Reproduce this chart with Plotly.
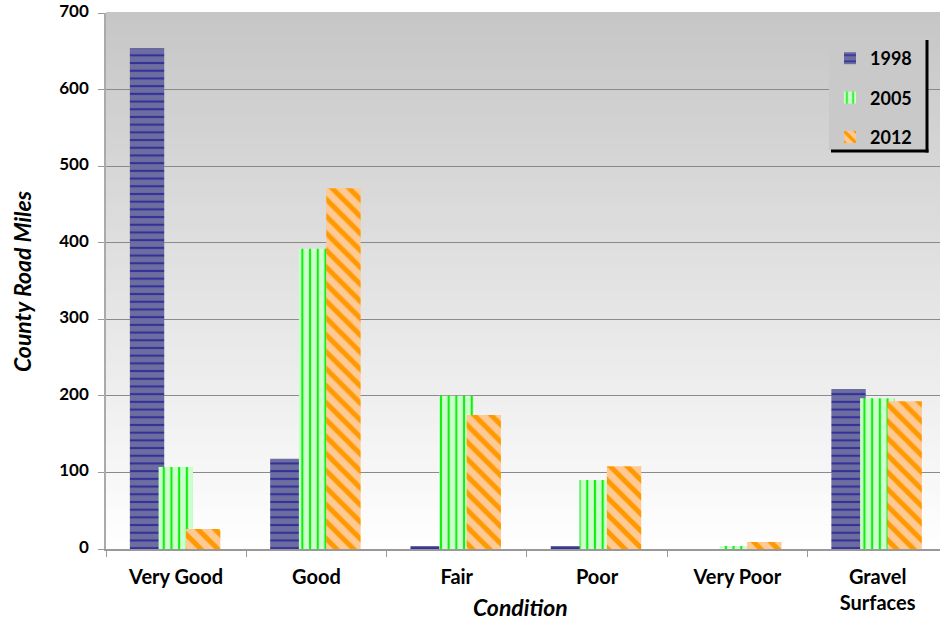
import plotly.graph_objects as go

categories = ["Very Good", "Good", "Fair", "Poor", "Very Poor", "Gravel<br>Surfaces"]
years = ["1998", "2005", "2012"]
miles_1998 = [654, 118, 4, 4, 0, 209]
miles_2005 = [107, 392, 200, 90, 4, 197]
miles_2012 = [26, 471, 175, 108, 9, 193]
y_ticks = [0, 100, 200, 300, 400, 500, 600, 700]

W, H = 940, 625
ML, MR, MT, MB = 106, 0, 13, 76

FONT = "Lato, 'Open Sans', sans-serif"

styles = [
    dict(shape="-", bg="#6d6d9f", fg="#32329a", size=7.7, sol=0.27),
    dict(shape="|", bg="#ccffcc", fg="#11ee11", size=7.7, sol=0.28),
    dict(shape="\\", bg="#ffc994", fg="#ff9900", size=12, sol=0.42),
]
offsets = [-0.33, -0.125, 0.07]
bar_w = 0.245

fig = go.Figure()
for i, (yr, vals) in enumerate(zip(years, [miles_1998, miles_2005, miles_2012])):
    s = styles[i]
    fig.add_trace(go.Bar(
        x=categories, y=vals, name=yr, legendgroup=yr,
        offset=offsets[i], width=bar_w,
        marker=dict(
            color=s["bg"],
            line=dict(width=0),
            pattern=dict(shape=s["shape"], bgcolor=s["bg"], fgcolor=s["fg"],
                         size=s["size"], solidity=s["sol"], fillmode="replace"),
        ),
    ))

# gradient background bands (paper coordinates)
shapes = []
n = 90
for k in range(n):
    y0 = k / n
    y1 = (k + 1) / n
    t = 1 - (y0 + y1) / 2  # 0 at top, 1 at bottom
    v = int(round(198 + (255 - 198) * t))
    c = f"rgb({v},{v},{v})"
    shapes.append(dict(type="rect", xref="paper", yref="paper", x0=0, x1=1,
                       y0=y0, y1=y1 + 0.002, fillcolor=c, line=dict(width=0),
                       layer="below"))

pw = W - ML - MR
ph = H - MT - MB
def px(xp):  # screen x -> paper
    return (xp - ML) / pw
def py(yp):  # screen y -> paper
    return (H - MB - yp) / ph

# legend box + shadow lines
shapes.append(dict(type="rect", xref="paper", yref="paper",
                   x0=px(829), x1=px(926), y0=py(150), y1=py(40),
                   fillcolor="#c9c9c9", line=dict(width=0), layer="above"))
shapes.append(dict(type="line", xref="paper", yref="paper",
                   x0=px(927), x1=px(927), y0=py(40), y1=py(152.5),
                   line=dict(color="black", width=3), layer="above"))
shapes.append(dict(type="line", xref="paper", yref="paper",
                   x0=px(831), x1=px(928.5), y0=py(151), y1=py(151),
                   line=dict(color="black", width=3), layer="above"))

fig.update_layout(
    width=W, height=H,
    margin=dict(l=ML, r=MR, t=MT, b=MB, autoexpand=False),
    paper_bgcolor="white",
    plot_bgcolor="rgba(0,0,0,0)",
    barmode="overlay",
    shapes=shapes,
    font=dict(family=FONT, color="black"),
    showlegend=True,
    legend=dict(
        x=px(830), y=py(40), xanchor="left", yanchor="top",
        bgcolor="rgba(0,0,0,0)", borderwidth=0,
        font=dict(family=FONT, size=18, weight="bold", color="black"),
        tracegroupgap=13, traceorder="grouped",
        itemwidth=30,
    ),
    annotations=[
        dict(text="Condition", xref="paper", yref="paper",
             x=px(520), y=py(607), xanchor="center", yanchor="middle",
             showarrow=False,
             font=dict(family=FONT, size=23, weight="bold", style="italic", color="black")),
        dict(text="County Road Miles", xref="paper", yref="paper",
             x=px(22), y=0.5, xanchor="center", yanchor="middle",
             showarrow=False, textangle=-90,
             font=dict(family=FONT, size=23, weight="bold", style="italic", color="black")),
    ],
)

fig.update_xaxes(
    type="category", range=[-0.5, -0.5 + pw / 140.3],
    tickson="boundaries", ticks="outside", ticklen=6, tickcolor="#999999",
    showline=True, linecolor="#999999", linewidth=1.5,
    showgrid=False, ticklabelstandoff=9, automargin=False,
    tickfont=dict(family=FONT, size=20, weight="bold", color="black"),
)
fig.update_yaxes(
    range=[0, 700], tickvals=y_ticks,
    ticks="outside", ticklen=6, tickcolor="#999999",
    showline=True, linecolor="#aaaaaa", linewidth=1.5,
    showgrid=True, gridcolor="#8a8a8a", gridwidth=1,
    zeroline=False, ticklabelstandoff=6, ticklabeloverflow="allow",
    ticklabelshift=-2, automargin=False,
    tickfont=dict(family=FONT, size=17, weight="bold", color="black"),
)

fig.write_html("out.html", config={"displayModeBar": False},
               post_script="document.body.style.margin='0';")
